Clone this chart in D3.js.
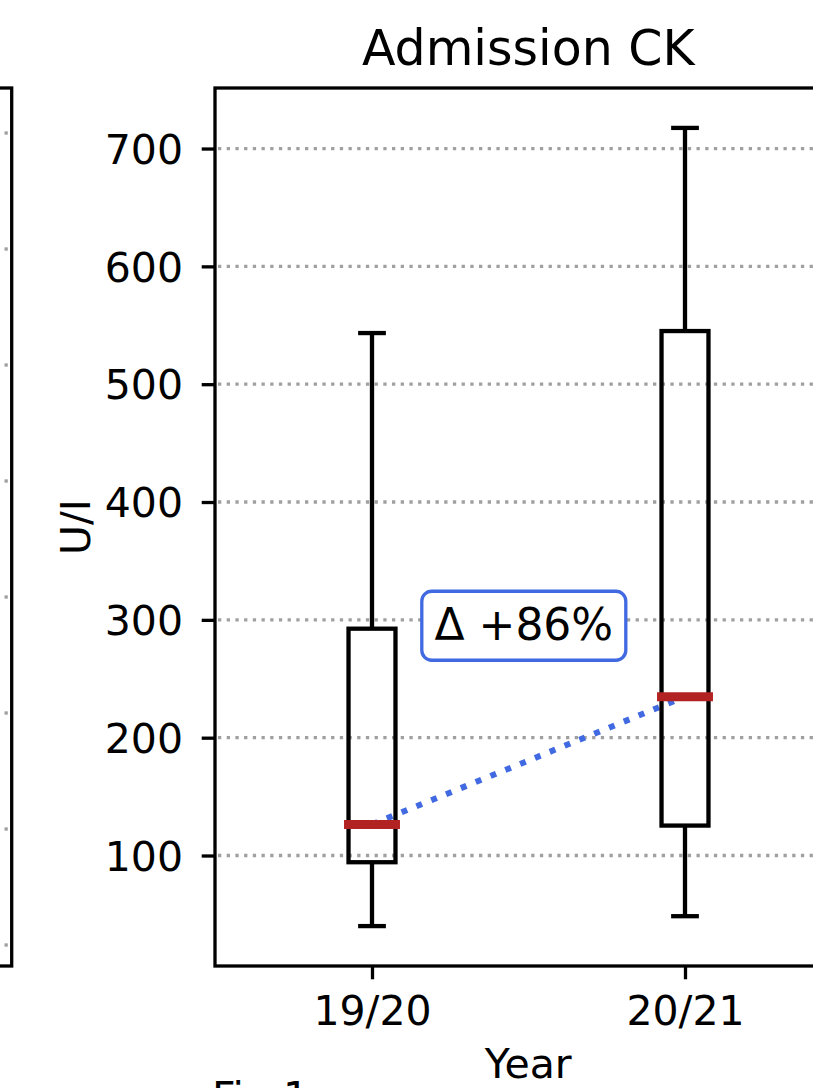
<!DOCTYPE html>
<html>
<head>
<meta charset="utf-8">
<script src="https://cdn.jsdelivr.net/npm/d3@7"></script>
<style>
  html, body { margin: 0; padding: 0; background: #fff; }
  svg { display: block; }
  text { font-family: "DejaVu Sans", sans-serif; fill: #000; }
</style>
</head>
<body>
<svg id="chart" width="813" height="1088"></svg>
<script>
// ---- data ----
const categories = ["19/20", "20/21"];
const positions = [1, 2];
const whiskerLow = [40.1, 48.5];
const q1 = [94.3, 125.4];
const medians = [126.4, 234.8];
const q3 = [292.5, 545.1];
const whiskerHigh = [543.4, 717.5];
const yTicks = [100, 200, 300, 400, 500, 600, 700];
const annotationPos = [1.485, 295];
const title = "Admission CK";
const xLabel = "Year";
const yLabel = "U/I";
// neighbouring (cut-off) panel gridlines
const leftPanelTicks = [0, 1, 2, 3, 4, 5, 6, 7];

const svg = d3.select("#chart");
const frame = { left: 215, right: 841.5, top: 88, bottom: 966 };

const lo = d3.min(whiskerLow), hi = d3.max(whiskerHigh);
const pad = (hi - lo) * 0.05;
const x = d3.scaleLinear().domain([0.5, 2.5]).range([frame.left + 0.5, frame.right]);
const y = d3.scaleLinear().domain([lo - pad, hi + pad]).range([frame.bottom, frame.top]);

// ---- left neighbouring panel (mostly cut off) ----
const yLeft = d3.scaleLinear().domain([0, 7]).range([945, 133]);
svg.append("g").selectAll("line").data(leftPanelTicks).join("line")
  .attr("x1", 4.5).attr("x2", 11).attr("y1", d => yLeft(d)).attr("y2", d => yLeft(d))
  .attr("stroke", "#a0a0a0").attr("stroke-width", 3.3).attr("stroke-dasharray", "3.3,20");
svg.append("rect").attr("x", -100).attr("y", frame.top).attr("width", 111.7)
  .attr("height", frame.bottom - frame.top).attr("fill", "none")
  .attr("stroke", "#000").attr("stroke-width", 3.3);

// ---- gridlines ----
svg.append("g").selectAll("line").data(yTicks).join("line")
  .attr("x1", frame.left + 3).attr("x2", 813)
  .attr("y1", d => y(d)).attr("y2", d => y(d))
  .attr("stroke", "#a0a0a0").attr("stroke-width", 3.3)
  .attr("stroke-dasharray", "3.3,5.4");

// ---- axes ----
const yAxis = d3.axisLeft(y).tickValues(yTicks).tickSize(13.3).tickPadding(18.7);
const gy = svg.append("g").attr("transform", `translate(${frame.left},0)`).call(yAxis);
gy.select(".domain").remove();
gy.selectAll(".tick line").attr("stroke", "#000").attr("stroke-width", 3.3);
gy.selectAll(".tick text").attr("font-size", 41).attr("dy", "0.36em")
  .style("font-family", "DejaVu Sans");

const xAxis = d3.axisBottom(x).tickValues(positions).tickFormat((d, i) => categories[i])
  .tickSize(13.3).tickPadding(16.7);
const gx = svg.append("g").attr("transform", `translate(0,${frame.bottom})`).call(xAxis);
gx.select(".domain").remove();
gx.selectAll(".tick line").attr("stroke", "#000").attr("stroke-width", 3.3);
gx.selectAll(".tick text").attr("font-size", 41).style("font-family", "DejaVu Sans");

// ---- connection between medians ----
svg.append("line")
  .attr("x1", x(positions[0])).attr("y1", y(medians[0]))
  .attr("x2", x(positions[1])).attr("y2", y(medians[1]))
  .attr("stroke", "#4169E1").attr("stroke-width", 6).attr("stroke-dasharray", "6,10");

// ---- boxplots ----
const boxW = 0.15, capW = 0.075, lw = 4.3;
const boxes = svg.append("g").selectAll("g").data(positions).join("g");
boxes.append("line")
  .attr("x1", (d) => x(d)).attr("x2", (d) => x(d))
  .attr("y1", (d, i) => y(q3[i])).attr("y2", (d, i) => y(whiskerHigh[i]))
  .attr("stroke", "#000").attr("stroke-width", lw);
boxes.append("line")
  .attr("x1", (d) => x(d)).attr("x2", (d) => x(d))
  .attr("y1", (d, i) => y(q1[i])).attr("y2", (d, i) => y(whiskerLow[i]))
  .attr("stroke", "#000").attr("stroke-width", lw);
boxes.append("line")
  .attr("x1", d => x(d - capW / 2)).attr("x2", d => x(d + capW / 2))
  .attr("y1", (d, i) => y(whiskerHigh[i])).attr("y2", (d, i) => y(whiskerHigh[i]))
  .attr("stroke", "#000").attr("stroke-width", lw).attr("stroke-linecap", "square");
boxes.append("line")
  .attr("x1", d => x(d - capW / 2)).attr("x2", d => x(d + capW / 2))
  .attr("y1", (d, i) => y(whiskerLow[i])).attr("y2", (d, i) => y(whiskerLow[i]))
  .attr("stroke", "#000").attr("stroke-width", lw).attr("stroke-linecap", "square");
boxes.append("rect")
  .attr("x", d => x(d - boxW / 2)).attr("width", d => x(d + boxW / 2) - x(d - boxW / 2))
  .attr("y", (d, i) => y(q3[i])).attr("height", (d, i) => y(q1[i]) - y(q3[i]))
  .attr("fill", "none").attr("stroke", "#000").attr("stroke-width", lw);
boxes.append("line")
  .attr("x1", d => x(d - boxW / 2)).attr("x2", d => x(d + boxW / 2))
  .attr("y1", (d, i) => y(medians[i])).attr("y2", (d, i) => y(medians[i]))
  .attr("stroke", "#B22222").attr("stroke-width", 9).attr("stroke-linecap", "square");

// ---- annotation ----
const pct = Math.round((medians[1] / medians[0] - 1) * 100);
const ax = x(annotationPos[0]), ay = y(annotationPos[1]);
const ann = svg.append("g");
ann.append("rect")
  .attr("x", ax - 102).attr("y", ay - 34.5).attr("width", 204).attr("height", 69)
  .attr("rx", 10).attr("ry", 10)
  .attr("fill", "#fff").attr("stroke", "#4169E1").attr("stroke-width", 3.3);
ann.append("text").attr("x", ax).attr("y", ay + 14)
  .attr("text-anchor", "middle").attr("font-size", 44)
  .text(`Δ ${pct >= 0 ? "+" : ""}${pct}%`);

// ---- frame ----
svg.append("rect").attr("x", frame.left).attr("y", frame.top)
  .attr("width", frame.right - frame.left).attr("height", frame.bottom - frame.top)
  .attr("fill", "none").attr("stroke", "#000").attr("stroke-width", 3.3);

// ---- labels ----
const cx = (frame.left + frame.right) / 2;
svg.append("text").attr("x", cx).attr("y", 65).attr("text-anchor", "middle")
  .attr("font-size", 49).text(title);
svg.append("text").attr("x", cx).attr("y", 1078).attr("text-anchor", "middle")
  .attr("font-size", 41).text(xLabel);
svg.append("text")
  .attr("transform", `translate(90,${(frame.top + frame.bottom) / 2}) rotate(-90)`)
  .attr("text-anchor", "middle").attr("font-size", 41).text(yLabel);

// cut-off caption of the page below (only its top shows in the reference)
svg.append("text").attr("x", 212).attr("y", 1111).attr("font-size", 41).text("Fig 1.");
</script>
</body>
</html>
